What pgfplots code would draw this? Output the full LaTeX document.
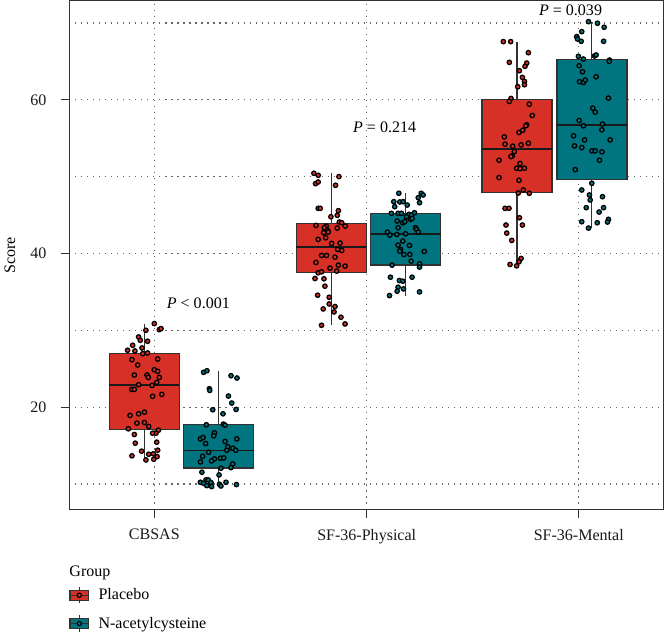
\documentclass[border=0pt]{standalone}
\usepackage{fontspec}
\setmainfont{Liberation Serif}
\usepackage{pgfplots}
\pgfplotsset{compat=1.18}
\definecolor{pred}{RGB}{214,48,39}
\definecolor{pteal}{RGB}{0,117,127}
\definecolor{frame}{RGB}{50,50,50}

\pgfplotstableread{
x y
0.855 30.87
0.882 30.09
0.891 30.22
0.810 30.00
0.771 29.13
0.780 28.70
0.819 28.57
0.739 28.05
0.789 27.70
0.712 27.40
0.751 27.31
0.793 26.96
0.819 27.05
0.873 26.26
0.735 26.18
0.766 25.48
0.855 24.87
0.873 24.66
0.748 24.18
0.816 24.18
0.823 23.87
0.882 23.87
0.868 23.22
0.771 22.92
0.843 22.83
0.734 22.31
0.748 22.31
0.895 21.66
0.846 21.40
0.725 18.92
0.771 19.13
0.802 19.35
0.762 17.92
0.802 18.00
0.825 17.48
0.716 17.18
0.877 17.00
0.864 16.61
0.846 16.61
0.748 16.44
0.753 15.31
0.868 15.44
0.787 14.27
0.873 14.40
0.735 13.66
0.825 13.87
0.850 13.92
0.870 13.57
0.810 13.13
0.852 13.22
}\cbsasP

\pgfplotstableread{
x y
1.119 24.53
1.137 24.74
1.266 24.09
1.298 23.79
1.150 22.39
1.152 22.18
1.252 21.44
1.270 20.53
1.293 19.70
1.168 19.66
1.223 19.13
1.134 17.70
1.225 17.79
1.234 17.66
1.177 16.66
1.173 16.26
1.102 15.87
1.116 16.05
1.297 15.87
1.130 15.26
1.234 15.53
1.248 14.83
1.275 14.66
1.291 14.39
1.243 14.39
1.146 14.13
1.114 13.61
1.209 13.35
1.227 13.39
1.177 13.26
1.162 13.00
1.102 12.87
1.275 12.61
1.266 12.13
1.212 12.05
1.110 11.53
1.202 11.18
1.132 10.53
1.144 10.53
1.102 10.22
1.119 10.09
1.159 10.18
1.136 9.79
1.162 9.66
1.204 9.96
1.212 9.74
1.239 10.22
1.295 9.92
}\cbsasN

\pgfplotstableread{
x y
1.710 50.43
1.733 50.17
1.844 50.00
1.719 49.09
1.733 49.30
1.826 48.87
1.733 45.87
1.744 45.87
1.841 45.57
1.835 44.96
1.801 44.78
1.846 44.09
1.859 44.00
1.721 43.65
1.776 43.56
1.766 43.35
1.784 42.99
1.835 43.30
1.878 43.56
1.762 42.70
1.787 42.78
1.773 42.04
1.733 41.83
1.805 41.30
1.850 41.35
1.837 40.52
1.859 40.39
1.751 39.74
1.778 39.74
1.823 39.52
1.721 38.83
1.841 38.48
1.877 38.35
1.796 38.09
1.832 37.70
1.733 37.48
1.751 37.61
1.716 36.74
1.764 36.70
1.769 35.74
1.730 34.57
1.792 34.30
1.792 33.43
1.823 33.09
1.818 32.39
1.760 32.78
1.855 31.70
1.877 30.83
1.751 30.65
}\physP

\pgfplotstableread{
x y
2.165 47.83
2.285 47.83
2.295 47.61
2.269 47.26
2.138 46.74
2.170 46.70
2.188 46.74
2.210 46.30
2.143 46.09
2.276 46.61
2.125 45.22
2.161 45.22
2.179 45.22
2.219 45.09
2.233 45.00
2.249 45.30
2.206 44.78
2.227 44.43
2.236 44.56
2.156 44.22
2.186 44.00
2.197 44.13
2.161 43.35
2.254 43.35
2.260 43.13
2.104 42.78
2.117 42.39
2.154 42.48
2.201 42.56
2.269 42.78
2.186 41.61
2.161 41.09
2.222 41.04
2.174 40.52
2.170 40.30
2.301 40.26
2.192 39.87
2.224 39.87
2.231 39.00
2.129 38.48
2.276 38.65
2.276 38.22
2.120 36.91
2.236 36.91
2.168 36.48
2.186 36.39
2.161 35.61
2.156 35.09
2.190 35.39
2.276 35.00
2.115 34.52
}\physN

\pgfplotstableread{
x y
2.725 67.57
2.764 67.57
2.859 66.13
2.757 64.87
2.850 64.78
2.841 64.35
2.811 63.78
2.827 62.91
2.838 62.39
2.838 61.96
2.802 61.70
2.766 60.17
2.757 59.78
2.864 59.43
2.880 57.96
2.850 56.74
2.845 56.61
2.829 56.04
2.809 55.74
2.730 55.17
2.734 54.22
2.775 53.96
2.820 54.13
2.859 54.35
2.784 53.26
2.773 52.70
2.766 52.61
2.702 52.13
2.814 51.70
2.796 51.09
2.814 51.04
2.838 51.09
2.702 49.87
2.809 49.52
2.832 48.26
2.805 47.87
2.864 47.83
2.734 45.87
2.755 45.87
2.811 44.65
2.739 43.70
2.827 43.70
2.743 42.65
2.770 41.70
2.820 39.35
2.809 38.91
2.761 38.57
2.796 38.39
}\mentP

\pgfplotstableread{
x y
3.181 70.17
3.229 69.96
3.265 69.44
3.145 68.87
3.118 68.22
3.122 67.91
3.142 67.61
3.262 67.61
3.127 65.65
3.154 65.30
3.213 65.70
3.222 65.83
3.294 65.17
3.292 65.00
3.131 64.43
3.149 63.65
3.133 62.35
3.154 62.26
3.163 62.57
3.222 63.00
3.288 60.22
3.204 58.91
3.217 58.39
3.131 57.30
3.154 56.61
3.256 56.83
3.253 56.09
3.101 55.31
3.160 54.78
3.297 54.78
3.106 54.00
3.145 53.78
3.199 53.35
3.217 53.35
3.253 53.22
3.240 52.13
3.110 50.91
3.199 49.13
3.145 48.26
3.186 47.61
3.190 46.96
3.256 47.39
3.169 45.96
3.262 45.96
3.238 45.39
3.145 44.13
3.228 44.00
3.288 44.44
3.283 44.09
3.181 43.30
}\mentN

% box: left, centre, right, lower whisker, Q1, median, Q3, upper whisker, colour
\newcommand{\bx}[9]{%
  \addplot[forget plot, frame, line width=0.9pt] coordinates {(#2,#4) (#2,#5)};
  \addplot[forget plot, frame, line width=0.9pt] coordinates {(#2,#7) (#2,#8)};
  \addplot[forget plot, draw=frame, fill=#9, line width=1pt]
    coordinates {(#1,#5) (#3,#5) (#3,#7) (#1,#7)} -- cycle;
  \addplot[forget plot, black!90, line width=1.1pt] coordinates {(#1,#6) (#3,#6)};
}

\begin{document}
\begin{tikzpicture}[font=\fontsize{12}{14}\selectfont]
\begin{axis}[
  scale only axis,
  width=444.75pt, height=381pt,
  xmin=0.399, xmax=3.582, ymin=6.66, ymax=72.9,
  clip mode=individual,
  xtick={0.855,1.993,3.129},
  xticklabels={CBSAS,SF-36-Physical,SF-36-Mental},
  ytick={20,40,60},
  minor ytick={10,30,50,70},
  xtick pos=lower, ytick pos=left,
  tick align=outside,
  major tick length=6pt, minor tick length=0pt,
  tick style={frame, line width=0.8pt},
  axis line style={frame, line width=1pt},
  grid=both,
  major grid style={gray!80!black, line width=0.85pt, dash pattern=on 0.85pt off 3.65pt},
  minor grid style={gray!80!black, line width=0.85pt, dash pattern=on 0.85pt off 3.65pt},
  /pgf/number format/assume math mode=true,
  tick label style={font=\fontsize{12}{14}\selectfont, text=black!90},
  yticklabel shift=7.5pt,
  xticklabel shift=5pt,
  ylabel={Score},
  ylabel style={font=\fontsize{12}{14}\selectfont, yshift=4.5pt},
  legend style={at={(0,0)}, anchor=north west, yshift=-57pt, xshift=0pt,
    draw=none, fill=none, inner sep=0pt, row sep=7.3pt, column sep=5pt,
    font=\fontsize{12}{14}\selectfont, cells={anchor=west}},
  legend cell align=left,
]
% legend images
\addlegendimage{legend image code/.code={
  \draw[frame, line width=0.8pt] (7pt,-6pt) -- (7pt,6pt);
  \draw[frame, line width=0.8pt, fill=pred] (0pt,-3.75pt) rectangle (14pt,3.75pt);
  \draw[frame, line width=0.8pt] (0pt,0pt) -- (14pt,0pt);
  \draw[black, line width=0.9pt, fill=pred] (7pt,0pt) circle (1.6pt);}}
\addlegendentry{Placebo}
\addlegendimage{legend image code/.code={
  \draw[frame, line width=0.8pt] (7pt,-6pt) -- (7pt,6pt);
  \draw[frame, line width=0.8pt, fill=pteal] (0pt,-3.75pt) rectangle (14pt,3.75pt);
  \draw[frame, line width=0.8pt] (0pt,0pt) -- (14pt,0pt);
  \draw[black, line width=0.9pt, fill=pteal] (7pt,0pt) circle (1.6pt);}}
\addlegendentry{N-acetylcysteine}
% boxes
\bx{0.614}{0.8015}{0.989}{13.13}{17.05}{22.90}{27.02}{30.87}{pred}
\bx{1.0125}{1.200}{1.3875}{9.66}{12.09}{14.39}{17.70}{24.74}{pteal}
\bx{1.6155}{1.803}{1.9905}{30.65}{37.48}{40.87}{43.91}{50.43}{pred}
\bx{2.0135}{2.201}{2.3885}{34.52}{38.48}{42.56}{45.17}{47.83}{pteal}
\bx{2.6105}{2.798}{2.9855}{38.39}{47.91}{53.61}{60.04}{67.57}{pred}
\bx{3.0115}{3.199}{3.3865}{43.30}{49.65}{56.74}{65.22}{70.17}{pteal}
% points
\pgfplotsset{ptsP/.style={forget plot, only marks, mark=*, mark size=1.65pt,
  mark options={draw=black, fill=pred, line width=0.95pt}},
  ptsN/.style={forget plot, only marks, mark=*, mark size=1.65pt,
  mark options={draw=black, fill=pteal, line width=0.95pt}}}
\addplot[ptsP] table[x=x,y=y] {\cbsasP};
\addplot[ptsN] table[x=x,y=y] {\cbsasN};
\addplot[ptsP] table[x=x,y=y] {\physP};
\addplot[ptsN] table[x=x,y=y] {\physN};
\addplot[ptsP] table[x=x,y=y] {\mentP};
\addplot[ptsN] table[x=x,y=y] {\mentN};
% p-values
\node at (axis cs:1.091,33.56) {\textit{P} < 0.001};
\node at (axis cs:2.089,56.48) {\textit{P} = 0.214};
\node at (axis cs:3.085,71.6) {\textit{P} = 0.039};
\node[anchor=west, inner sep=0pt] at ([yshift=-47.25pt]rel axis cs:0,0) {Group};
\end{axis}
\end{tikzpicture}
\end{document}
